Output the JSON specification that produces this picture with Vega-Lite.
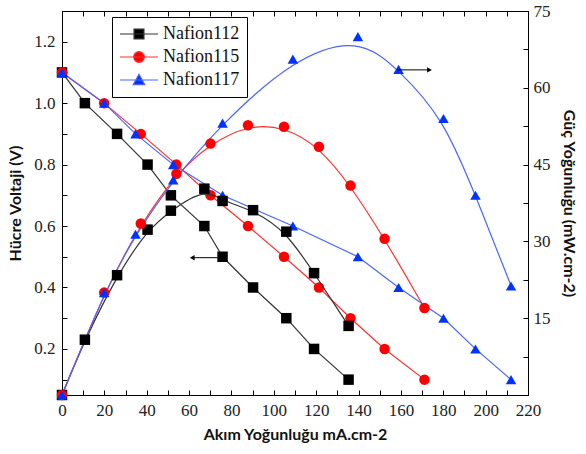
{
  "$schema": "https://vega.github.io/schema/vega-lite/v6.json",
  "width": 466,
  "height": 384,
  "autosize": {"type": "none"},
  "padding": {"left": 62, "top": 11, "right": 58, "bottom": 59},
  "background": "white",
  "datasets": {
    "pts": [
      {"series": "Nafion112", "current": 0, "voltage": 1.10, "power": 0},
      {"series": "Nafion112", "current": 10.8, "voltage": 1.00, "power": 10.8},
      {"series": "Nafion112", "current": 26.0, "voltage": 0.90, "power": 23.4},
      {"series": "Nafion112", "current": 40.4, "voltage": 0.80, "power": 32.3},
      {"series": "Nafion112", "current": 51.4, "voltage": 0.70, "power": 36.0},
      {"series": "Nafion112", "current": 67.2, "voltage": 0.60, "power": 40.3},
      {"series": "Nafion112", "current": 75.8, "voltage": 0.50, "power": 37.9},
      {"series": "Nafion112", "current": 90.2, "voltage": 0.40, "power": 36.1},
      {"series": "Nafion112", "current": 105.9, "voltage": 0.30, "power": 31.9},
      {"series": "Nafion112", "current": 119.0, "voltage": 0.20, "power": 23.8},
      {"series": "Nafion112", "current": 135.3, "voltage": 0.10, "power": 13.5},
      {"series": "Nafion115", "current": 0, "voltage": 1.10, "power": 0},
      {"series": "Nafion115", "current": 19.9, "voltage": 1.00, "power": 20.0},
      {"series": "Nafion115", "current": 37.2, "voltage": 0.90, "power": 33.5},
      {"series": "Nafion115", "current": 54.0, "voltage": 0.80, "power": 43.2},
      {"series": "Nafion115", "current": 70.1, "voltage": 0.70, "power": 49.1},
      {"series": "Nafion115", "current": 87.8, "voltage": 0.60, "power": 52.7},
      {"series": "Nafion115", "current": 104.8, "voltage": 0.50, "power": 52.4},
      {"series": "Nafion115", "current": 121.3, "voltage": 0.40, "power": 48.5},
      {"series": "Nafion115", "current": 136.2, "voltage": 0.30, "power": 40.9},
      {"series": "Nafion115", "current": 152.3, "voltage": 0.20, "power": 30.5},
      {"series": "Nafion115", "current": 171.1, "voltage": 0.10, "power": 17.0},
      {"series": "Nafion117", "current": 0, "voltage": 1.10, "power": 0},
      {"series": "Nafion117", "current": 19.9, "voltage": 1.00, "power": 20.0},
      {"series": "Nafion117", "current": 34.7, "voltage": 0.90, "power": 31.4},
      {"series": "Nafion117", "current": 52.5, "voltage": 0.80, "power": 42.0},
      {"series": "Nafion117", "current": 75.8, "voltage": 0.70, "power": 53.1},
      {"series": "Nafion117", "current": 109.0, "voltage": 0.60, "power": 65.6},
      {"series": "Nafion117", "current": 139.7, "voltage": 0.50, "power": 70.0},
      {"series": "Nafion117", "current": 158.9, "voltage": 0.40, "power": 63.6},
      {"series": "Nafion117", "current": 180.1, "voltage": 0.30, "power": 54.0},
      {"series": "Nafion117", "current": 195.2, "voltage": 0.20, "power": 39.0},
      {"series": "Nafion117", "current": 212.0, "voltage": 0.10, "power": 21.3}
    ],
    "arrowsV": [{"current": 73.5, "current2": 62.0, "tip": 61.5, "voltage": 0.497}],
    "arrowsP": [{"current": 158.4, "current2": 173.0, "tip": 173.5, "power": 63.5}],
    "leg": [{"series": "Nafion112"}, {"series": "Nafion115"}, {"series": "Nafion117"}]
  },
  "config": {
    "view": {"stroke": "black", "strokeWidth": 1},
    "axis": {
      "grid": false,
      "domainColor": "black",
      "tickColor": "black",
      "labelFont": "Liberation Serif",
      "labelFontSize": 17,
      "labelColor": "#222222",
      "labelOverlap": false,
      "labelFlush": false,
      "titleFont": "Lato",
      "titleFontWeight": "bold",
      "titleFontSize": 16,
      "titleColor": "#111111"
    }
  },
  "layer": [
    {
      "encoding": {
        "x": {
          "field": "current", "type": "quantitative",
          "scale": {"domain": [0, 220], "nice": false, "zero": false},
          "axis": {
            "orient": "bottom",
            "title": "Akım Yoğunluğu mA.cm-2",
            "values": [0, 10, 20, 30, 40, 50, 60, 70, 80, 90, 100, 110, 120, 130, 140, 150, 160, 170, 180, 190, 200, 210, 220],
            "labelExpr": "datum.value % 20 == 0 ? datum.label : ''",
            "labelFont": "Liberation Serif",
            "labelFontSize": 17,
            "tickSize": -5,
            "labelPadding": 12,
            "titlePadding": 8
          }
        },
        "y": {
          "field": "voltage", "type": "quantitative",
          "scale": {"domain": [0.05, 1.3], "nice": false, "zero": false},
          "axis": {
            "orient": "left",
            "title": "Hücre Voltaji (V)",
            "values": [0.1, 0.2, 0.3, 0.4, 0.5, 0.6, 0.7, 0.8, 0.9, 1.0, 1.1, 1.2],
            "format": ".1f",
            "labelExpr": "round(datum.value * 10) % 2 == 0 ? datum.label : ''",
            "labelFont": "Liberation Serif",
            "labelFontSize": 17,
            "tickSize": -5,
            "labelPadding": 12,
            "titlePadding": 10
          }
        }
      },
      "layer": [
        {
          "data": {"name": "pts"},
          "transform": [{"filter": "datum.series == 'Nafion112'"}],
          "mark": {"type": "line", "strokeWidth": 1.2, "color": "#333333"}
        },
        {
          "data": {"name": "pts"},
          "transform": [{"filter": "datum.series == 'Nafion115'"}],
          "mark": {"type": "line", "strokeWidth": 1.2, "color": "#ff3030"}
        },
        {
          "data": {"name": "pts"},
          "transform": [{"filter": "datum.series == 'Nafion117'"}],
          "mark": {"type": "line", "strokeWidth": 1.2, "color": "#4a66ff"}
        },
        {
          "data": {"name": "pts"},
          "transform": [{"filter": "datum.series == 'Nafion112'"}],
          "mark": {"type": "point", "shape": "square", "filled": true, "size": 110, "opacity": 1, "color": "#000000"}
        },
        {
          "data": {"name": "pts"},
          "transform": [{"filter": "datum.series == 'Nafion115'"}],
          "mark": {"type": "point", "shape": "circle", "filled": true, "size": 110, "opacity": 1, "color": "#ff0000"}
        },
        {
          "data": {"name": "pts"},
          "transform": [{"filter": "datum.series == 'Nafion117'"}],
          "mark": {"type": "point", "shape": "triangle-up", "filled": true, "size": 110, "opacity": 1, "color": "#0033ff"}
        },
        {
          "data": {"name": "arrowsV"},
          "mark": {"type": "rule", "color": "black", "strokeWidth": 1},
          "encoding": {"x2": {"field": "current2"}}
        },
        {
          "data": {"name": "arrowsV"},
          "mark": {"type": "point", "shape": "triangle-left", "filled": true, "color": "black", "size": 30, "opacity": 1},
          "encoding": {"x": {"field": "tip", "type": "quantitative"}}
        }
      ]
    },
    {
      "encoding": {
        "x": {
          "field": "current", "type": "quantitative",
          "scale": {"domain": [0, 220], "nice": false, "zero": false},
          "axis": {
            "orient": "top",
            "title": null,
            "labels": false,
            "values": [0, 10, 20, 30, 40, 50, 60, 70, 80, 90, 100, 110, 120, 130, 140, 150, 160, 170, 180, 190, 200, 210, 220],
            "tickSize": -5
          }
        },
        "y": {
          "field": "power", "type": "quantitative",
          "scale": {"domain": [0, 75], "nice": false, "zero": false},
          "axis": {
            "orient": "right",
            "title": "Güç Yoğunluğu (mW.cm-2)",
            "titleAngle": 90,
            "values": [7.5, 15, 22.5, 30, 37.5, 45, 52.5, 60, 67.5, 75],
            "labelExpr": "datum.value % 15 == 0 ? datum.label : ''",
            "labelFont": "Liberation Serif",
            "labelFontSize": 17,
            "tickSize": -5,
            "labelPadding": 10,
            "titlePadding": 10
          }
        }
      },
      "layer": [
        {
          "data": {"name": "pts"},
          "transform": [{"filter": "datum.series == 'Nafion112'"}],
          "mark": {"type": "line", "strokeWidth": 1.2, "interpolate": "basis", "color": "#333333"}
        },
        {
          "data": {"name": "pts"},
          "transform": [{"filter": "datum.series == 'Nafion115'"}],
          "mark": {"type": "line", "strokeWidth": 1.2, "interpolate": "basis", "color": "#ff3030"}
        },
        {
          "data": {"name": "pts"},
          "transform": [{"filter": "datum.series == 'Nafion117'"}],
          "mark": {"type": "line", "strokeWidth": 1.2, "interpolate": "basis", "color": "#4a66ff"}
        },
        {
          "data": {"name": "pts"},
          "transform": [{"filter": "datum.series == 'Nafion112'"}],
          "mark": {"type": "point", "shape": "square", "filled": true, "size": 110, "opacity": 1, "color": "#000000"}
        },
        {
          "data": {"name": "pts"},
          "transform": [{"filter": "datum.series == 'Nafion115'"}],
          "mark": {"type": "point", "shape": "circle", "filled": true, "size": 110, "opacity": 1, "color": "#ff0000"}
        },
        {
          "data": {"name": "pts"},
          "transform": [{"filter": "datum.series == 'Nafion117'"}],
          "mark": {"type": "point", "shape": "triangle-up", "filled": true, "size": 110, "opacity": 1, "color": "#0033ff"}
        },
        {
          "data": {"name": "arrowsP"},
          "mark": {"type": "rule", "color": "black", "strokeWidth": 1},
          "encoding": {"x2": {"field": "current2"}}
        },
        {
          "data": {"name": "arrowsP"},
          "mark": {"type": "point", "shape": "triangle-right", "filled": true, "color": "black", "size": 30, "opacity": 1},
          "encoding": {"x": {"field": "tip", "type": "quantitative"}}
        }
      ]
    },
    {
      "data": {"name": "leg"},
      "mark": {"type": "point", "filled": true, "opacity": 0},
      "encoding": {
        "color": {
          "field": "series", "type": "nominal",
          "scale": {"domain": ["Nafion112", "Nafion115", "Nafion117"], "range": ["#000000", "#ff0000", "#0033ff"]},
          "legend": {
            "title": null,
            "orient": "none",
            "legendX": 50,
            "legendY": 6,
            "strokeColor": "black",
            "fillColor": "white",
            "padding": 7,
            "symbolSize": 1444,
            "clipHeight": 20,
            "rowPadding": 3,
            "labelFont": "Liberation Serif",
            "labelFontSize": 18,
            "labelColor": "#111111",
            "labelOffset": 4,
            "symbolStrokeWidth": 1.2,
            "symbolOpacity": 1,
            "encode": {
              "symbols": {
                "update": {
                  "shape": {"signal": "datum.value == 'Nafion112' ? 'M-1,0H1M-0.26,-0.26H0.26V0.26H-0.26Z' : datum.value == 'Nafion115' ? 'M-1,0H1M0.28,0A0.28,0.28,0,1,1,-0.28,0A0.28,0.28,0,1,1,0.28,0Z' : 'M-1,0H1M0,-0.3L0.3,0.24L-0.3,0.24Z'"},
                  "stroke": {"signal": "datum.value == 'Nafion112' ? '#333333' : datum.value == 'Nafion115' ? '#ff3030' : '#4a66ff'"},
                  "fill": {"signal": "datum.value == 'Nafion112' ? '#000000' : datum.value == 'Nafion115' ? '#ff0000' : '#0033ff'"},
                  "opacity": {"value": 1}
                }
              }
            }
          }
        }
      }
    }
  ],
  "resolve": {"scale": {"y": "independent"}, "axis": {"x": "independent"}}
}
